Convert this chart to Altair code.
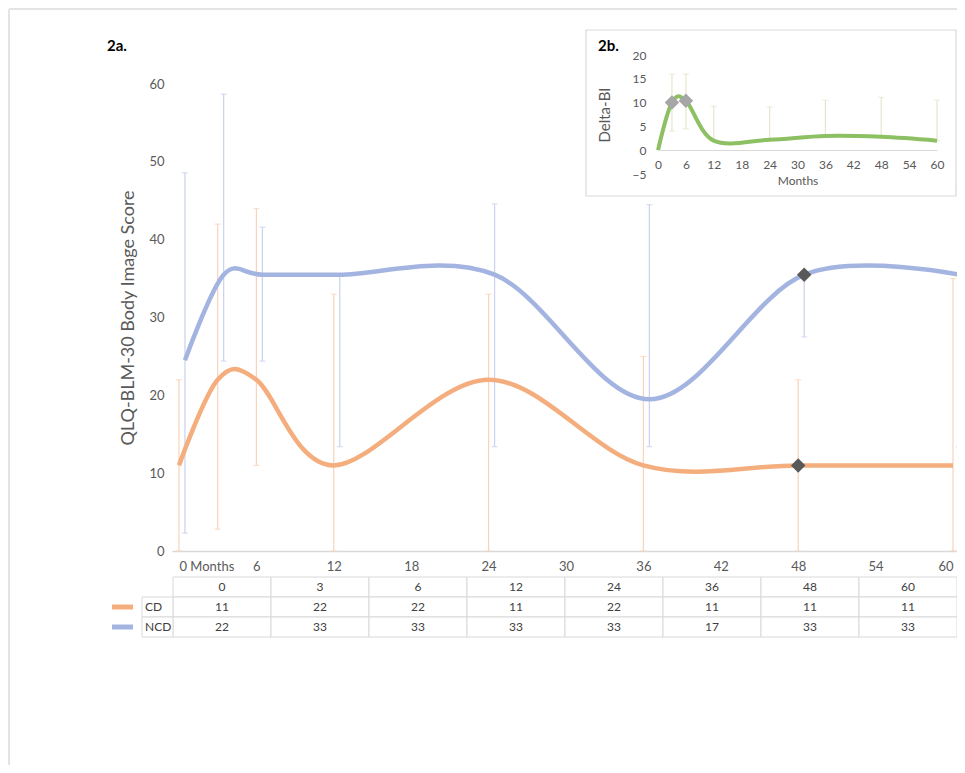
import altair as alt
import pandas as pd

# ---------------- data: panel 2a ----------------
months = [0, 3, 6, 12, 24, 36, 48, 60]
cd_score = [11, 22, 22, 11, 22, 11, 11, 11]
cd_low = [0, 2.8, 11, 0, 0, 0, 0, 0]
cd_high = [22, 42, 44, 33, 33, 25, 22, 35]
ncd_score = [24.5, 35.5, 35.5, 35.5, 35.5, 19.5, 35.5, 35.5]
ncd_low = [2.3, 24.4, 24.4, 13.4, 13.4, 13.4, 27.5, 13.4]
ncd_high = [48.6, 58.7, 41.6, 35.5, 44.6, 44.5, 35.5, 46.8]
marker_months = [48]
x_ticks = [0, 6, 12, 18, 24, 30, 36, 42, 48, 54, 60]
y_ticks = [0, 10, 20, 30, 40, 50, 60]

# data table under the chart
table_header = ["0", "3", "6", "12", "24", "36", "48", "60"]
table_cd = ["11", "22", "22", "11", "22", "11", "11", "11"]
table_ncd = ["22", "33", "33", "33", "33", "17", "33", "33"]
series_names = ["CD", "NCD"]

# ---------------- data: panel 2b ----------------
delta_months = [0, 3, 6, 12, 24, 36, 48, 60]
delta_bi = [0, 10, 10.4, 2.0, 2.2, 3.0, 2.8, 2.0]
delta_low = [0, 4, 4.5, 2.0, 2.2, 3.0, 2.8, 2.0]
delta_high = [0, 16, 16, 9.2, 9.1, 10.5, 11.1, 10.5]
delta_marker_months = [3, 6]
inset_x_ticks = [0, 6, 12, 18, 24, 30, 36, 42, 48, 54, 60]
inset_y_ticks = [-5, 0, 5, 10, 15, 20]

# ---------------- styles ----------------
FONT = "Lato, 'Noto Sans', sans-serif"
GREY_TXT = "#595959"
ORANGE = "#F4AE7E"
BLUE = "#A3B4E0"
ORANGE_BAR = "#F8D3BA"
BLUE_BAR = "#C8D2EE"
GREEN = "#8CC063"
GREEN_BAR = "#E8E5CC"
DIAMOND_DARK = "#595959"
DIAMOND_LIGHT = "#A6A6A6"
GRID = "#d9d9d9"

W, H = 785, 467

# ---------------- main panel (2a) ----------------
main_x_scale = alt.Scale(domain=[-0.54, 60.31], nice=False, zero=False)
main_y_scale = alt.Scale(domain=[0, 60], nice=False, zero=False)
main_x_axis = alt.Axis(
    values=x_ticks, title=None, grid=False, ticks=False, labelFlush=False,
    domainColor=GRID, domainWidth=1.5,
    labelColor=GREY_TXT, labelFont=FONT, labelFontSize=13, labelPadding=9,
    labelExpr="datum.value === 0 ? '0 Months' : datum.label",
    labelAlign={"condition": [{"test": "datum.value === 0", "value": "left"},
                              {"test": "datum.value === 60", "value": "right"}],
                "value": "center"},
)
main_y_axis = alt.Axis(
    values=y_ticks, title="QLQ-BLM-30 Body Image Score", grid=False, ticks=False, domain=False,
    labelColor=GREY_TXT, labelFont=FONT, labelFontSize=13, labelPadding=8, labelFlush=False,
    titleColor=GREY_TXT, titleFont=FONT, titleFontSize=18, titleFontWeight="normal",
    titlePadding=11,
)


def mx():
    return alt.X("month:Q", scale=main_x_scale, axis=main_x_axis)


def my(field):
    return alt.Y(f"{field}:Q", scale=main_y_scale, axis=main_y_axis)


def series_layers(score, low, high, line_color, bar_color, xoff):
    df = pd.DataFrame({"month": months, "score": score, "low": low, "high": high})
    base = alt.Chart(df)
    bars = base.mark_rule(color=bar_color, strokeWidth=1.2, xOffset=xoff).encode(
        x=mx(), y=my("low"), y2="high:Q")
    cap_hi = base.mark_tick(color=bar_color, orient="horizontal", size=6, thickness=1.2,
                            xOffset=xoff).encode(x=mx(), y=my("high"))
    cap_lo = base.mark_tick(color=bar_color, orient="horizontal", size=6, thickness=1.2,
                            xOffset=xoff).encode(x=mx(), y=my("low"))
    line = base.mark_line(color=line_color, strokeWidth=4.5, interpolate="cardinal",
                          xOffset=xoff).encode(x=mx(), y=my("score"))
    mk = pd.DataFrame({"month": marker_months,
                       "score": [score[months.index(m)] for m in marker_months]})
    marker = alt.Chart(mk).mark_point(shape="diamond", filled=True, size=210, opacity=1,
                                      color=DIAMOND_DARK, xOffset=xoff).encode(
        x=mx(), y=my("score"))
    return [bars, cap_hi, cap_lo], [line], [marker]

cd_bars, cd_line, cd_mark = series_layers(cd_score, cd_low, cd_high, ORANGE, ORANGE_BAR, 0)
ncd_bars, ncd_line, ncd_mark = series_layers(ncd_score, ncd_low, ncd_high, BLUE, BLUE_BAR, 6)

main_panel = alt.layer(*cd_bars, *ncd_bars, *cd_line, *ncd_line, *cd_mark, *ncd_mark)

# ---------------- inset panel (2b) ----------------
inset_x_scale = alt.Scale(domain=[0, 60], range=[486, 765], nice=False, zero=False)
inset_y_scale = alt.Scale(domain=[-5, 20], range=[90, -29], nice=False, zero=False)
inset_x_axis = alt.Axis(
    orient="bottom", offset=-401, values=inset_x_ticks, title="Months", grid=False, ticks=False,
    domainColor=GRID, domainWidth=1, zindex=1, labelFlush=False,
    labelColor=GREY_TXT, labelFont=FONT, labelFontSize=12, labelPadding=9,
    titleColor=GREY_TXT, titleFont=FONT, titleFontSize=12, titleFontWeight="normal", titlePadding=5,
)
inset_y_axis = alt.Axis(
    orient="left", offset=-478, values=inset_y_ticks, title="Delta-BI", grid=False, ticks=False,
    domain=False, zindex=1, labelFlush=False,
    labelColor=GREY_TXT, labelFont=FONT, labelFontSize=12, labelPadding=4,
    titleColor=GREY_TXT, titleFont=FONT, titleFontSize=15, titleFontWeight="normal", titlePadding=20,
)


def ix():
    return alt.X("month:Q", scale=inset_x_scale, axis=inset_x_axis)


def iy(field):
    return alt.Y(f"{field}:Q", scale=inset_y_scale, axis=inset_y_axis)

delta_df = pd.DataFrame({"month": delta_months, "delta": delta_bi, "low": delta_low, "high": delta_high})
delta_base = alt.Chart(delta_df)
ibars = delta_base.transform_filter("datum.high > datum.low").mark_rule(
    color=GREEN_BAR, strokeWidth=1.2).encode(x=ix(), y=iy("low"), y2="high:Q")
icap_hi = delta_base.transform_filter("datum.high > datum.low").mark_tick(
    color=GREEN_BAR, orient="horizontal", size=6, thickness=1.2).encode(x=ix(), y=iy("high"))
icap_lo = delta_base.transform_filter("datum.high > datum.low").mark_tick(
    color=GREEN_BAR, orient="horizontal", size=6, thickness=1.2).encode(x=ix(), y=iy("low"))
iline = delta_base.mark_line(color=GREEN, strokeWidth=4, interpolate="cardinal").encode(
    x=ix(), y=iy("delta"))
imk_df = pd.DataFrame({"month": delta_marker_months,
                       "delta": [delta_bi[delta_months.index(m)] for m in delta_marker_months]})
imark = alt.Chart(imk_df).mark_point(shape="diamond", filled=True, size=210, opacity=1,
                                     color=DIAMOND_LIGHT).encode(x=ix(), y=iy("delta"))
inset_panel = alt.layer(ibars, icap_hi, icap_lo, iline, imark)

one = pd.DataFrame({"t": ["frame"]})
inset_box = alt.Chart(one).mark_rect(fill="white", stroke=GRID, strokeWidth=1.2).encode(
    x=alt.value(414), x2=alt.value(784), y=alt.value(-54), y2=alt.value(112))
outer_left = alt.Chart(one).mark_rule(color="#e4e4e4", strokeWidth=2).encode(
    x=alt.value(-163), y=alt.value(-75), y2=alt.value(690))
outer_top = alt.Chart(one).mark_rule(color="#e4e4e4", strokeWidth=2).encode(
    x=alt.value(-163), x2=alt.value(790), y=alt.value(-75))
label_2a = alt.Chart(pd.DataFrame({"t": ["2a."]})).mark_text(
    align="left", baseline="middle", font=FONT, fontSize=15, fontWeight="bold", color="#000000"
).encode(x=alt.value(-65), y=alt.value(-38), text="t:N")
label_2b = alt.Chart(pd.DataFrame({"t": ["2b."]})).mark_text(
    align="left", baseline="middle", font=FONT, fontSize=15, fontWeight="bold", color="#000000"
).encode(x=alt.value(426), y=alt.value(-38), text="t:N")

# ---------------- data table ----------------
rows = ["hdr"] + series_names
cells = []
for i, c in enumerate(table_header):
    cells.append({"row": "hdr", "col": c, "txt": table_header[i]})
    cells.append({"row": "CD", "col": c, "txt": table_cd[i]})
    cells.append({"row": "NCD", "col": c, "txt": table_ncd[i]})
cells_df = pd.DataFrame(cells)
tx = alt.X("col:N", sort=table_header,
           scale=alt.Scale(domain=table_header, range=[1, 785], paddingInner=0, paddingOuter=0),
           axis=None)
ty = alt.Y("row:N", sort=rows,
           scale=alt.Scale(domain=rows, range=[493, 553], paddingInner=0, paddingOuter=0),
           axis=None)
t_cells = alt.Chart(cells_df).mark_rect(fill="white", stroke=GRID, strokeWidth=1).encode(x=tx, y=ty)
t_text = alt.Chart(cells_df).mark_text(font=FONT, fontSize=12, color="#404040").encode(
    x=tx, y=ty, text="txt:N")
lab_df = pd.DataFrame({"row": series_names, "name": series_names})
t_labcells = alt.Chart(lab_df).mark_rect(fill="white", stroke=GRID, strokeWidth=1).encode(
    x=alt.value(-30), x2=alt.value(1), y=ty)
t_labtext = alt.Chart(lab_df).mark_text(font=FONT, fontSize=12, color="#404040", align="left").encode(
    x=alt.value(-27), y=ty, text="name:N")
t_swatch = alt.Chart(lab_df).mark_rule(strokeWidth=5).encode(
    x=alt.value(-60), x2=alt.value(-39), y=ty,
    color=alt.Color("row:N", scale=alt.Scale(domain=series_names, range=[ORANGE, BLUE]), legend=None))
table_panel = alt.layer(t_cells, t_text, t_labcells, t_labtext, t_swatch)

chart = alt.layer(
    outer_left, outer_top, main_panel, inset_box, inset_panel, table_panel, label_2a, label_2b
).resolve_scale(x="independent", y="independent").properties(
    width=W, height=H,
    padding={"left": 164, "top": 76, "right": 0, "bottom": 214},
    autosize=alt.AutoSizeParams(type="none"),
).configure_view(stroke=None)

chart.save("out.html", embed_options={"renderer": "svg", "actions": False})
